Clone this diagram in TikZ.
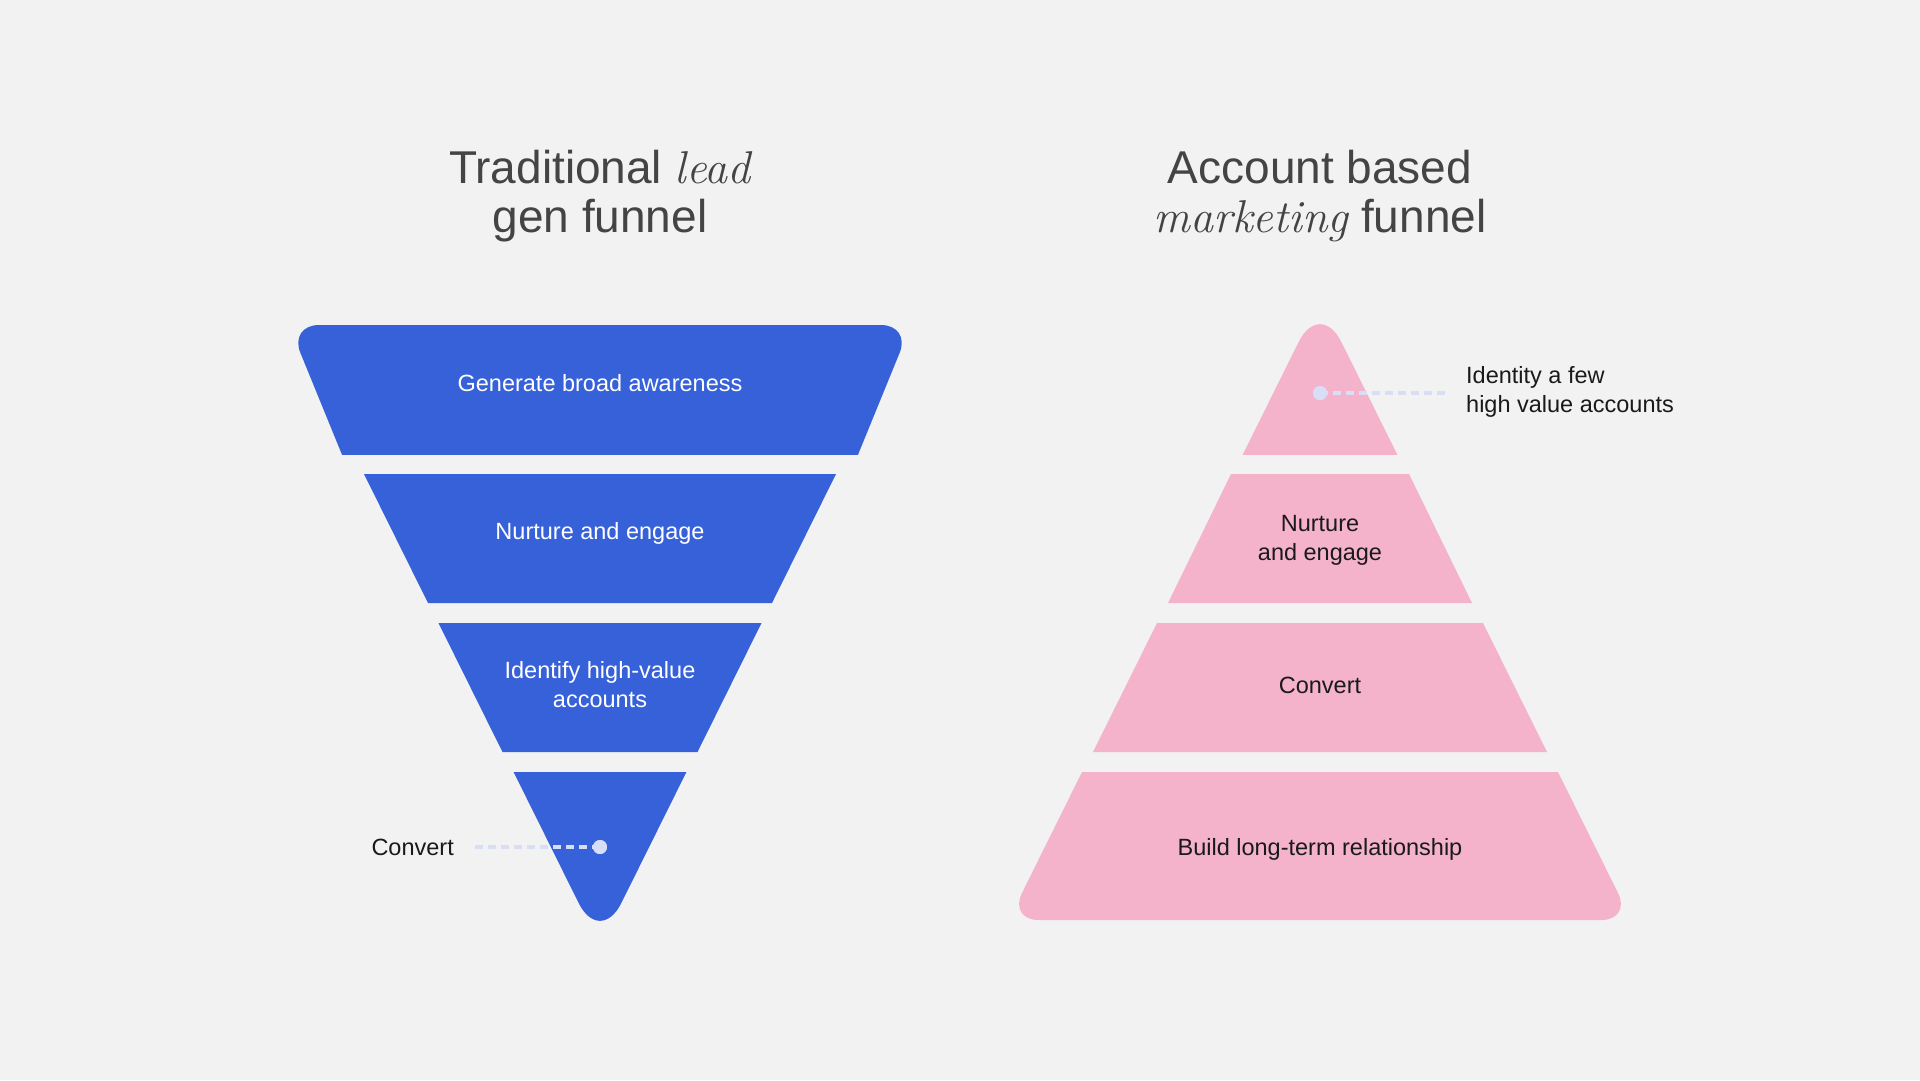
\documentclass[tikz,border=0pt]{standalone}
\usepackage{fontspec}
\setmainfont{Liberation Sans}
\newfontfamily\itfont{Latin Modern Roman}
\definecolor{bgc}{HTML}{F2F2F2}
\definecolor{fblue}{HTML}{3761D9}
\definecolor{fpink}{HTML}{F5B2CB}
\definecolor{ink}{HTML}{1A1A1A}
\definecolor{ttlc}{HTML}{444444}
\definecolor{dashc}{HTML}{D9DEF7}
\begin{document}
\begin{tikzpicture}[x=1pt,y=-1pt,
  lbl/.style={font=\fontsize{23.5}{28}\selectfont, anchor=base, inner sep=0pt},
  wl/.style={lbl, text=white},
  dl/.style={lbl, text=ink},
  ttl/.style={font=\fontsize{46}{50}\selectfont, text=ttlc, anchor=base, inner sep=0pt},
  conn/.style={draw=dashc, line width=3.2pt, dash pattern=on 8pt off 5pt},
  dotn/.style={circle, fill=dashc, minimum size=14pt, inner sep=0pt}]
\fill[bgc] (0,0) rectangle (1920,1080);
\useasboundingbox (0,0) rectangle (1920,1080);

% ---------- titles ----------
\node[ttl] (tl1) at (600,183) {Traditional {\itfont\itshape lead}};
\node[ttl] (tl2) at (600,232) {gen funnel};
\node[ttl] (tr1) at (1320,183) {Account based};
\node[ttl] (tr2) at (1320,232) {{\itfont\itshape marketing} funnel};

% ---------- left funnel ----------
\begin{scope}
  \clip (0,0) rectangle (1920,454);
  \fill[fblue, rounded corners=30pt] (360.5,500) -- (289,325) -- (911,325) -- (839.5,500) -- cycle;
\end{scope}
\fill[fblue] (364,474) -- (836,474) -- (772,603) -- (428,603) -- cycle;
\fill[fblue] (438.5,623) -- (761.5,623) -- (697.5,752) -- (502.5,752) -- cycle;
\begin{scope}
  \clip (0,772) rectangle (1920,1080);
  \fill[fblue, rounded corners=48pt] (453,650) -- (600,946) -- (747,650) -- cycle;
\end{scope}

\node[wl] (l1) at (600,391) {Generate broad awareness};
\node[wl] (l2) at (600,539) {Nurture and engage};
\node[wl] (l3a) at (600,678) {Identify high-value};
\node[wl] (l3b) at (600,707) {accounts};

\node[dl, anchor=base east] (l4) at (454,855) {Convert};
\node[dotn] (d1) at (600,847) {};
\coordinate (e1) at (473,847);
\draw[conn] (d1.center) -- (e1);
\node[dotn] at (600,847) {};

% ---------- right pyramid ----------
\begin{scope}
  \clip (0,0) rectangle (1920,454);
  \fill[fpink, rounded corners=48pt] (1190.4,560) -- (1320,299) -- (1449.6,560) -- cycle;
\end{scope}
\fill[fpink] (1231,474) -- (1409,474) -- (1472,603) -- (1168,603) -- cycle;
\fill[fpink] (1157,623) -- (1483,623) -- (1547,752) -- (1093,752) -- cycle;
\begin{scope}
  \clip (0,772) rectangle (1920,1080);
  \fill[fpink, rounded corners=30pt] (1107.8,720) -- (1532.2,720) -- (1631.4,920) -- (1008.6,920) -- cycle;
\end{scope}

\node[dl] (r2a) at (1320,531) {Nurture};
\node[dl] (r2b) at (1320,560) {and engage};
\node[dl] (r3) at (1320,693) {Convert};
\node[dl] (r4) at (1320,855) {Build long-term relationship};

\node[dl, anchor=base west] (r1a) at (1466,383) {Identity a few};
\node[dl, anchor=base west] (r1b) at (1466,412) {high value accounts};
\node[dotn] (d2) at (1320,393) {};
\coordinate (e2) at (1447,393);
\draw[conn] (d2.center) -- (e2);
\node[dotn] at (1320,393) {};
\end{tikzpicture}
\end{document}
